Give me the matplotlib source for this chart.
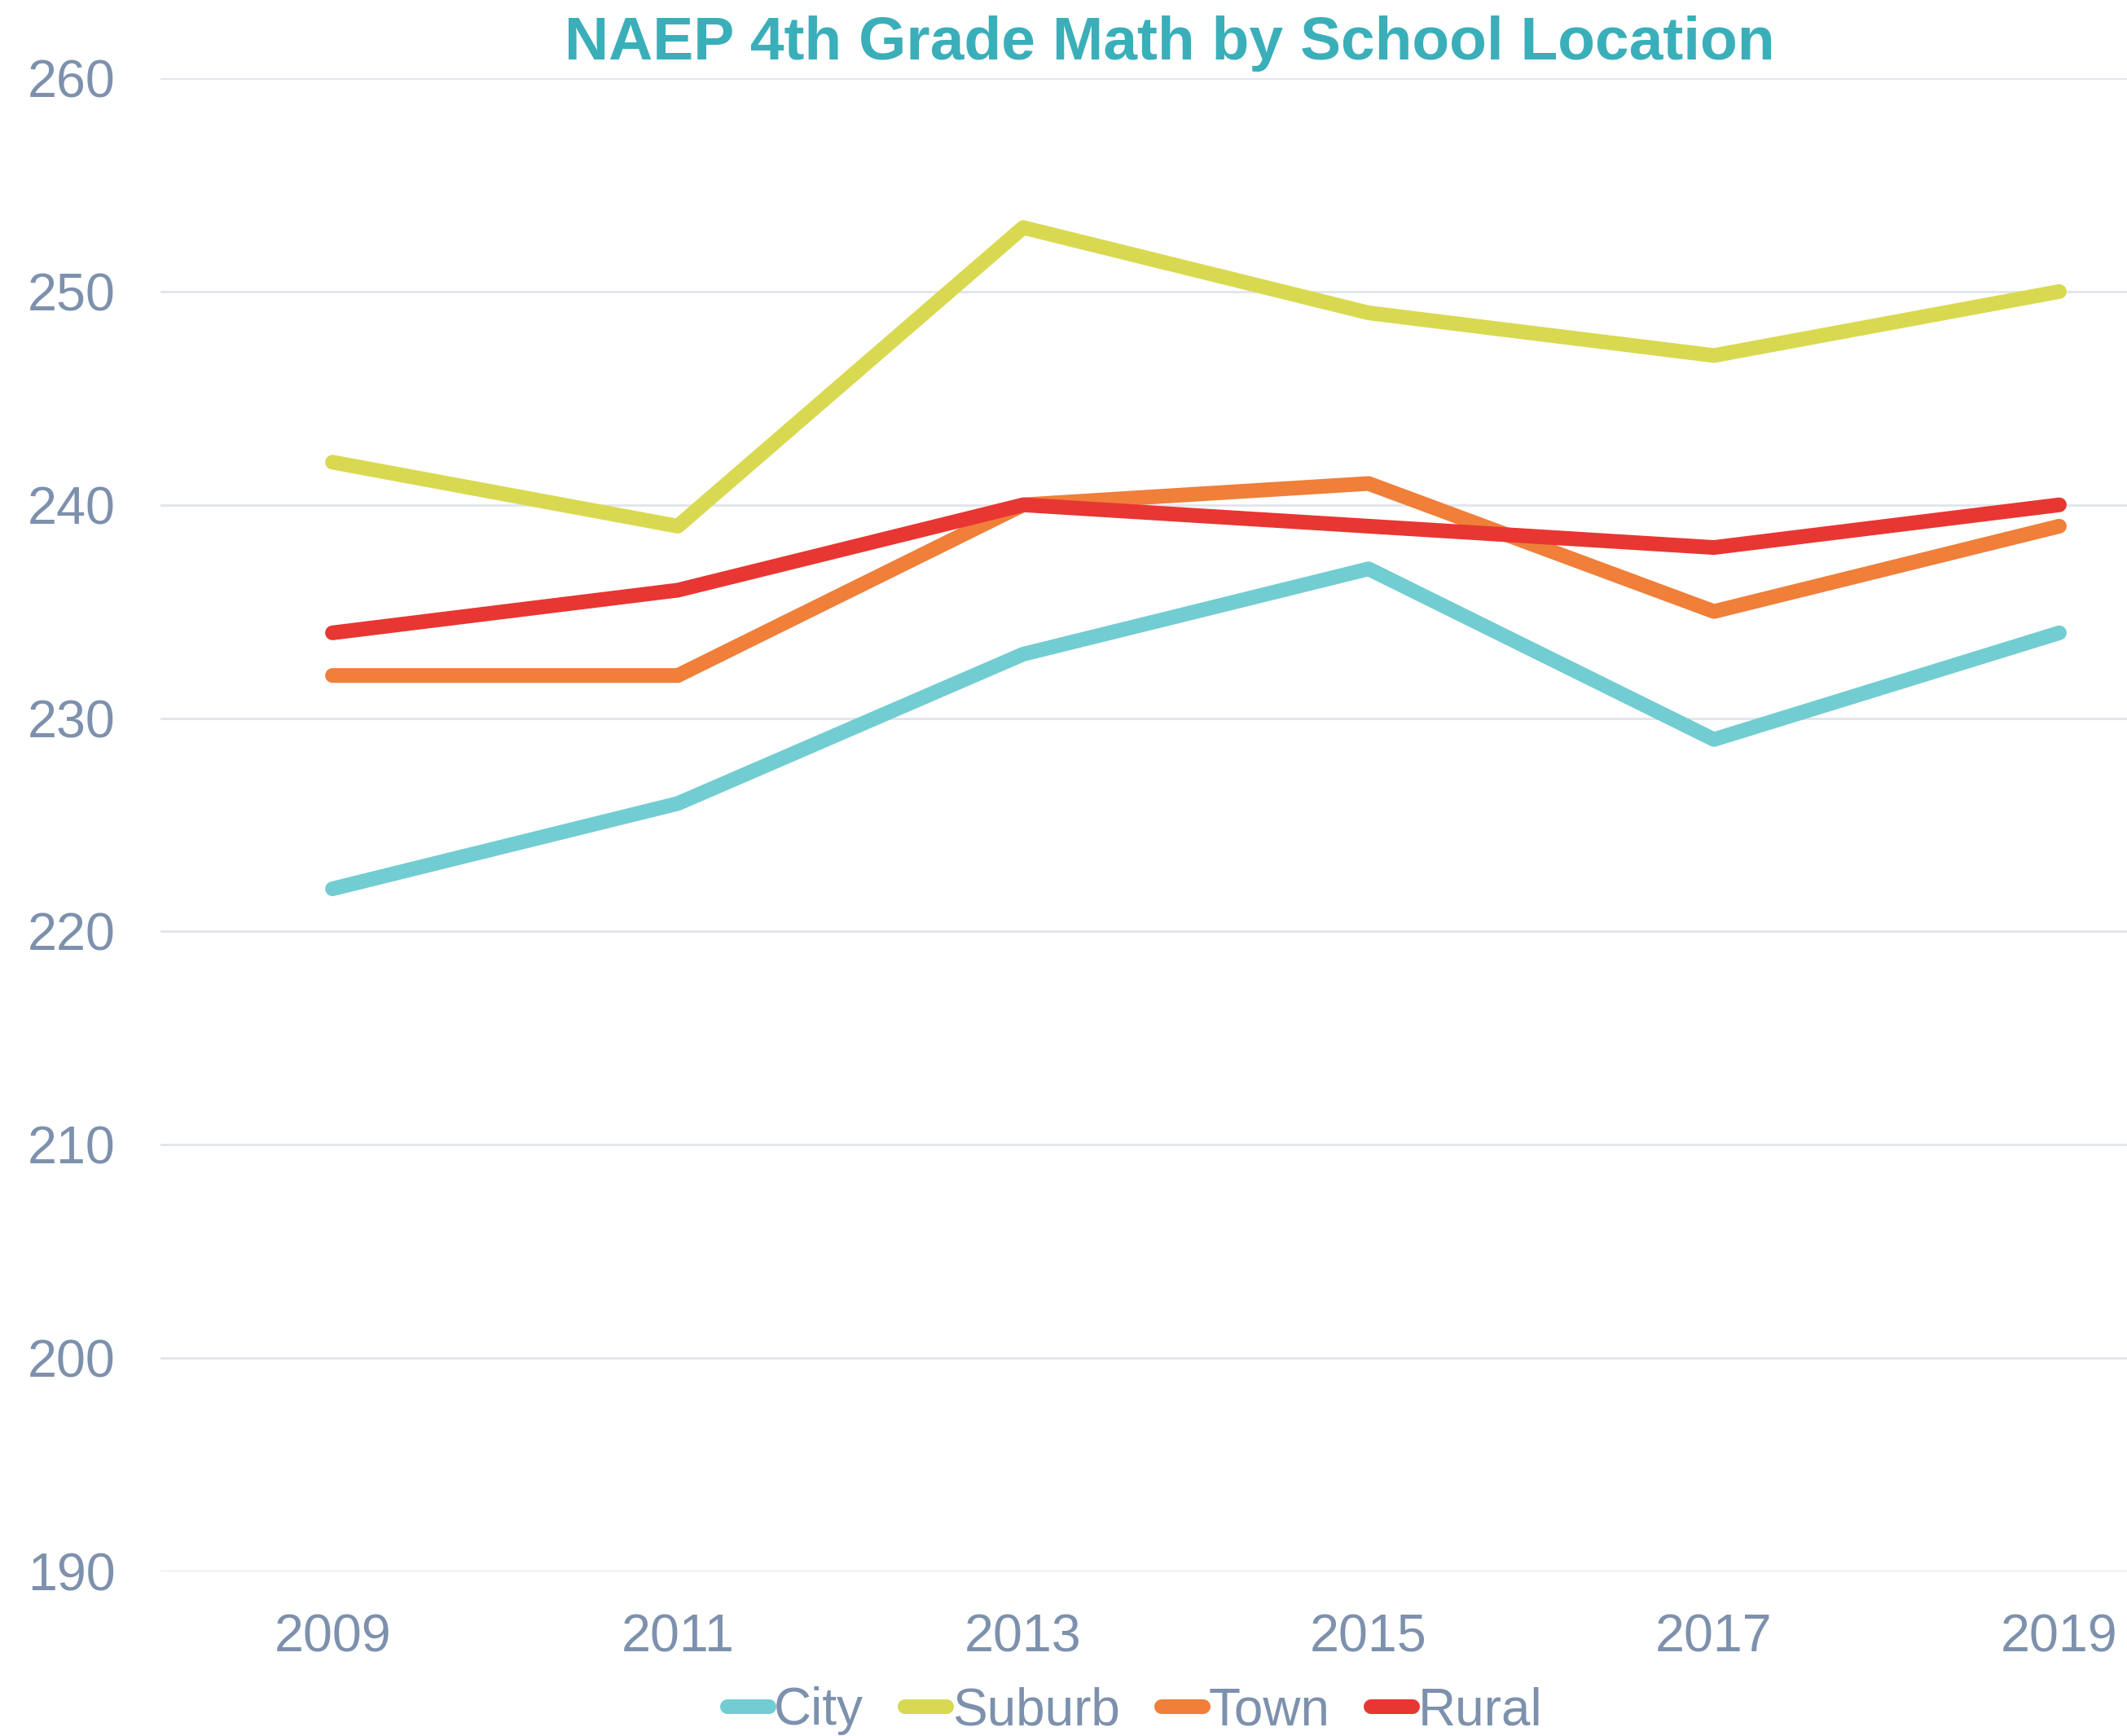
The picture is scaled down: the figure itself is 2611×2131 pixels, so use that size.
import matplotlib
matplotlib.use('Agg')
import matplotlib.pyplot as plt

# Data
years = ['2009', '2011', '2013', '2015', '2017', '2019']
city = [222, 226, 233, 237, 229, 234]
suburb = [242, 239, 253, 249, 247, 250]
town = [232, 232, 240, 241, 235, 239]
rural = [234, 236, 240, 239, 238, 240]

labels = ['City', 'Suburb', 'Town', 'Rural']
colors = ['#72CDD2', '#D9D951', '#EF7F39', '#E83632']
y_ticks = [190, 200, 210, 220, 230, 240, 250, 260]

label_color = '#7D91AD'
plt.rcParams['font.family'] = ['Liberation Sans', 'DejaVu Sans']

fig = plt.figure(figsize=(26.11, 21.31), dpi=100)
ax = fig.add_axes([197 / 2611, 1 - 1929 / 2131, 1 - 197 / 2611, (1929 - 96) / 2131])

x = list(range(len(years)))
for series, label, color in zip([city, suburb, town, rural], labels, colors):
    ax.plot(x, series, color=color, label=label, linewidth=13,
            solid_capstyle='round', solid_joinstyle='round')

ax.set_xlim(-0.498, 5.196)
ax.set_ylim(190, 260)
ax.set_xticks(x)
ax.set_xticklabels(years)
ax.set_yticks(y_ticks)

ax.tick_params(axis='both', length=0, labelsize=46.5, labelcolor=label_color)
ax.tick_params(axis='y', pad=40)
ax.tick_params(axis='x', pad=37)
ax.grid(True, axis='y', color='#E1E5EA', linewidth=2)
ax.set_axisbelow(True)
for spine in ax.spines.values():
    spine.set_visible(False)

fig.text(1436 / 2611, 1 - 73 / 2131, 'NAEP 4th Grade Math by School Location',
         ha='center', va='baseline', fontsize=54, fontweight='bold', color='#3AAFB9')

leg = fig.legend(loc='center', bbox_to_anchor=(1393 / 2611, 1 - 2100 / 2131),
                 ncol=4, frameon=False, fontsize=46, handlelength=0.8,
                 handletextpad=0.1, columnspacing=0.8, borderpad=0, borderaxespad=0)
for text in leg.get_texts():
    text.set_color(label_color)

fig.savefig('out.png', dpi=100, facecolor='white')
